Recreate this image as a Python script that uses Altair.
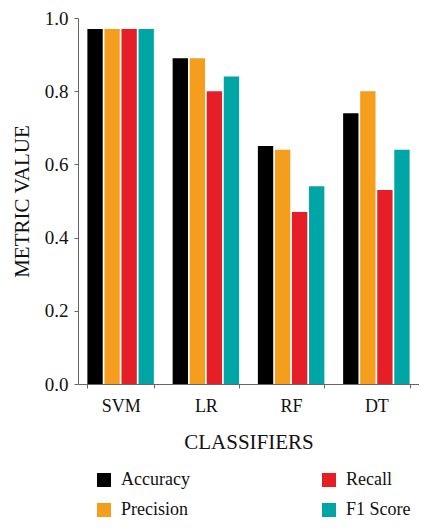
import altair as alt
import pandas as pd

classifiers = ["SVM", "LR", "RF", "DT"]
metrics = ["Accuracy", "Precision", "Recall", "F1 Score"]
accuracy = [0.97, 0.89, 0.65, 0.74]
precision = [0.97, 0.89, 0.64, 0.80]
recall = [0.97, 0.80, 0.47, 0.53]
f1 = [0.97, 0.84, 0.54, 0.64]

colors = ["#000000", "#F59D1C", "#E51E27", "#00A6A6"]

rows = []
for series, vals in zip(metrics, [accuracy, precision, recall, f1]):
    for c, v in zip(classifiers, vals):
        rows.append({"Classifier": c, "Metric": series, "Value": v})
df = pd.DataFrame(rows)

FONT = "Liberation Serif"

chart = alt.Chart(df).mark_bar().encode(
    x=alt.X("Classifier:N", sort=classifiers,
            scale=alt.Scale(paddingInner=0.22, paddingOuter=0.11),
            axis=alt.Axis(title="CLASSIFIERS", labelAngle=0, labelFontSize=18,
                          labelFont=FONT, titleFont=FONT,
                          titleFontSize=21, titleFontWeight="normal",
                          labelPadding=9, titlePadding=16, tickBand="extent",
                          tickSize=4, labelColor="#111", titleColor="#111")),
    xOffset=alt.XOffset("Metric:N", sort=metrics,
                        scale=alt.Scale(paddingInner=0.1)),
    y=alt.Y("Value:Q", scale=alt.Scale(domain=[0, 1]),
            axis=alt.Axis(title="METRIC VALUE", values=[0, 0.2, 0.4, 0.6, 0.8, 1.0],
                          format=".1f", labelFontSize=19, titleFontSize=21,
                          labelFont=FONT, titleFont=FONT,
                          titleFontWeight="normal", tickSize=4, labelPadding=6,
                          titlePadding=12, grid=False, labelColor="#111",
                          titleColor="#111")),
    color=alt.Color("Metric:N",
                    scale=alt.Scale(domain=metrics, range=colors),
                    legend=alt.Legend(title=None, orient="none", legendX=17, legendY=453,
                                      columns=2, columnPadding=130, rowPadding=12,
                                      symbolType="square", symbolSize=196,
                                      symbolStrokeWidth=0, labelFontSize=18,
                                      labelFont=FONT,
                                      labelOffset=8, labelColor="#111")),
).properties(
    width=341, height=366,
    autosize=alt.AutoSizeParams(type="none"),
    padding={"left": 70, "top": 10, "right": 0, "bottom": 139},
).configure(font=FONT).configure_view(stroke=None).configure_axis(
    domainColor="#666", tickColor="#666"
).configure_legend(padding=0)

chart.save("out.html", embed_options={"renderer": "svg", "actions": False})
